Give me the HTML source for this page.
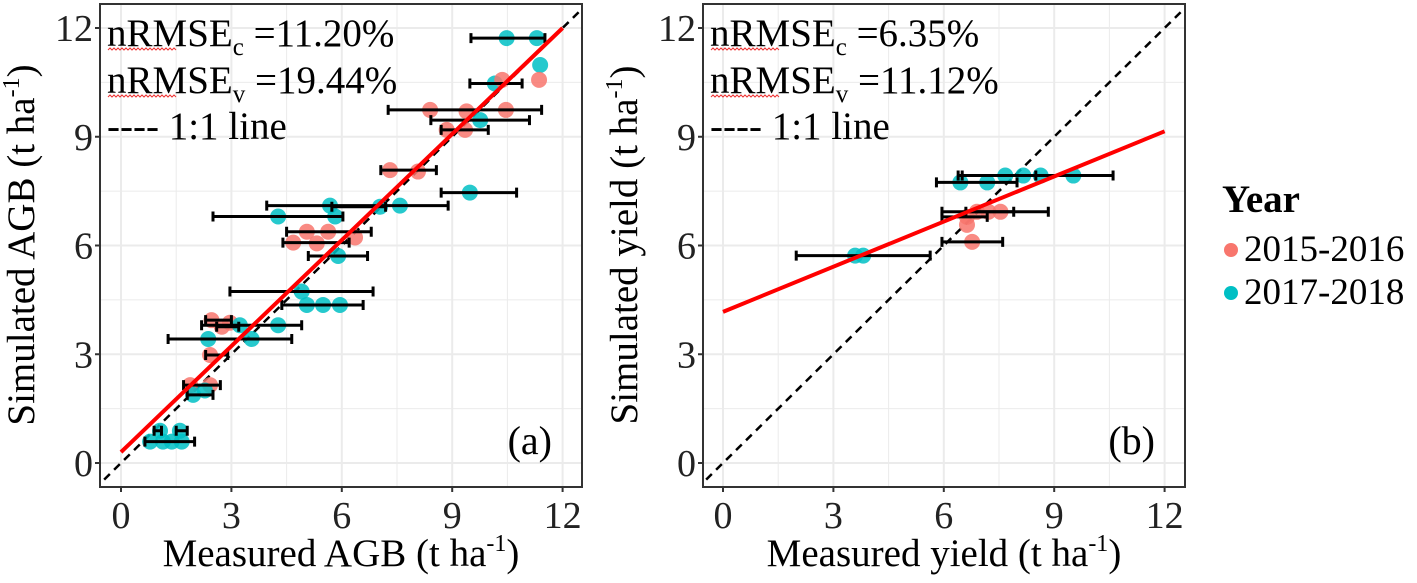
<!DOCTYPE html>
<html><head><meta charset="utf-8">
<style>
body{margin:0;background:#fff;width:1417px;height:578px;overflow:hidden;font-family:"Liberation Serif",serif;}
svg text{font-family:"Liberation Serif",serif;}
</style></head>
<body>
<svg id="chart" width="1417" height="578" xmlns="http://www.w3.org/2000/svg">
<g id="pa"></g>
<g id="pb"></g>
<g>
<text x="1222" y="212" font-size="39" font-weight="bold">Year</text>
<circle cx="1231" cy="250" r="7" fill="#F8766D"/>
<text x="1244" y="261" font-size="37">2015-2016</text>
<circle cx="1231" cy="293" r="7" fill="#00BFC4"/>
<text x="1244" y="304" font-size="37">2017-2018</text>
</g>
</svg>
<script>
// Panel (a) AGB data
const aX   = [10.48,11.3,11.39,11.36,10.16,10.36,8.4,9.39,10.46,9.76,8.85,9.35,7.31,8.07,9.48,5.68,7.04,7.58,4.27,5.82,5.05,5.63,6.36,4.68,5.32,5.9,4.91,5.05,5.49,5.95,2.46,2.96,2.74,3.23,4.27,2.37,3.55,2.42,1.88,2.42,1.96,2.28,1.06,1.6,0.79,1.14,1.38,1.65];
const aY   = [11.72,11.72,10.98,10.57,10.47,10.57,9.74,9.7,9.74,9.46,9.19,9.19,8.08,8.04,7.46,7.1,7.07,7.1,6.8,6.8,6.38,6.38,6.22,6.08,6.06,5.71,4.73,4.36,4.36,4.36,3.94,3.87,3.76,3.8,3.8,3.42,3.42,2.98,2.15,2.15,1.88,2.0,0.89,0.89,0.59,0.59,0.59,0.59];
const aG   = [1,1,1,0,1,0,0,0,0,1,0,0,0,0,1,1,1,1,1,1,0,0,0,0,0,1,1,1,1,1,0,0,0,1,1,1,1,0,0,0,1,1,1,1,1,1,1,1];
const aLo  = [9.51,null,null,null,9.48,null,7.26,null,null,8.42,8.7,null,7.06,null,8.7,3.96,5.73,null,2.5,null,4.5,null,null,4.4,null,5.09,2.96,4.37,null,null,2.3,null,2.6,2.19,null,1.28,null,2.3,1.7,null,1.8,null,0.9,1.5,0.65,null,null,null];
const aHi  = [11.52,null,null,null,10.9,null,11.43,null,null,11.1,9.98,null,8.57,null,10.75,8.89,7.19,null,6.03,null,6.8,null,null,6.2,null,6.7,6.85,6.58,null,null,3.0,null,3.2,4.91,null,4.64,null,2.9,2.7,null,2.5,null,1.1,1.8,2.0,null,null,null];
const aFit = [0.3,0.975];
// Panel (b) yield data
const bX   = [7.67,8.16,8.63,9.52,6.45,7.18,6.9,7.21,7.54,6.63,6.63,6.77,3.59,3.81];
const bY   = [7.93,7.93,7.93,7.93,7.74,7.74,6.93,6.93,6.93,6.79,6.57,6.1,5.72,5.72];
const bG   = [1,1,1,1,1,1,0,0,0,0,0,0,1,1];
const bLo  = [6.39,6.5,null,null,5.8,null,5.95,6.6,null,5.95,null,5.95,1.99,null];
const bHi  = [10.6,8.5,null,null,7.99,null,8.84,7.9,null,7.18,null,7.6,5.63,null];
const bFit = [4.17,0.415];
const ticks = [0,3,6,9,12];
const tickLabels = ["0","3","6","9","12"];
const colors = ["#F8766D","#00BFC4"];
const NS="http://www.w3.org/2000/svg";
function mk(p,t,a){const e=document.createElementNS(NS,t);for(const k in a)e.setAttribute(k,a[k]);p.appendChild(e);return e;}
function panel(g,cfg,X,Y,G,LO,HI,FIT){
  const L=cfg.left,R=cfg.left+482,T=4,B=487;
  const sx=v=>cfg.x0+v*36.8, sy=v=>463-v*36.25;
  const clip=mk(g,'clipPath',{id:cfg.id+'c'});mk(clip,'rect',{x:L,y:T,width:R-L,height:B-T});
  for(let v=-1.5;v<=13.5;v+=1.5){const major=(v%3===0);
    const gx=mk(g,'line',{x1:sx(v),x2:sx(v),y1:T,y2:B,stroke:'#ebebeb','stroke-width':major?2:1,'clip-path':'url(#'+cfg.id+'c)'});
    
    const gy=mk(g,'line',{x1:L,x2:R,y1:sy(v),y2:sy(v),stroke:'#ebebeb','stroke-width':major?2:1,'clip-path':'url(#'+cfg.id+'c)'});
    }
  const cg=mk(g,'g',{'clip-path':'url(#'+cfg.id+'c)'});
  const d=mk(cg,'line',{x1:sx(-1),y1:sy(-1),x2:sx(13),y2:sy(13),stroke:'#000','stroke-width':2.5,'stroke-dasharray':'8,6'});
  
  for(let i=0;i<X.length;i++){
    const c=mk(cg,'circle',{cx:sx(X[i]),cy:sy(Y[i]),r:8,fill:colors[G[i]],'fill-opacity':0.85});
    }
  for(let i=0;i<X.length;i++){ if(LO[i]==null)continue;
    const y=sy(Y[i]),x1=sx(LO[i]),x2=sx(HI[i]);
    const e=mk(cg,'path',{d:`M${x1},${y}H${x2}M${x1},${y-5}V${y+5}M${x2},${y-5}V${y+5}`,stroke:'#000','stroke-width':3,fill:'none'});
    }
  const f=mk(cg,'line',{x1:sx(0),y1:sy(FIT[0]),x2:sx(12),y2:sy(FIT[0]+12*FIT[1]),stroke:'#f00','stroke-width':4});
  
  const box=mk(g,'rect',{x:L,y:T,width:R-L,height:B-T,fill:'none',stroke:'#333','stroke-width':2});
  
  ticks.forEach((v,i)=>{
    mk(g,'line',{x1:sx(v),x2:sx(v),y1:B,y2:B+5,stroke:'#333','stroke-width':2});
    mk(g,'line',{x1:L-5,x2:L,y1:sy(v),y2:sy(v),stroke:'#333','stroke-width':2});
    const tx=mk(g,'text',{x:sx(v),y:B+41,'font-size':38,'text-anchor':'middle',fill:'#222'});tx.textContent=tickLabels[i];
    
    const ty=mk(g,'text',{x:L-7,y:sy(v)+13,'font-size':38,'text-anchor':'end',fill:'#222'});ty.textContent=tickLabels[i];
    
  });
  const xt=mk(g,'text',{x:(L+R)/2,y:566,'font-size':39,'text-anchor':'middle'});
  xt.innerHTML=cfg.xt+' (t ha<tspan dy="-15" font-size="24">-1</tspan><tspan dy="15">)</tspan>';
  
  const yt=mk(g,'text',{transform:`translate(${L-66},245) rotate(-90)`,'font-size':39,'text-anchor':'middle'});
  yt.innerHTML=cfg.yt+' (t ha<tspan dy="-15" font-size="24">-1</tspan><tspan dy="15">)</tspan>';
  
  const s1=mk(g,'text',{x:L+7,y:46,'font-size':39});s1.innerHTML='nRMSE<tspan dy="9" font-size="25">c</tspan><tspan dy="-9"> ='+cfg.c+'</tspan>';
  
  const s2=mk(g,'text',{x:L+7,y:93,'font-size':39});s2.innerHTML='nRMSE<tspan dy="9" font-size="25">v</tspan><tspan dy="-9"> ='+cfg.v+'</tspan>';
  
  [50,97].forEach(yy=>{let p=`M${L+8},${yy}`;for(let k=0;k<34;k++)p+=`l2,${k%2?2:-2}`;mk(g,'path',{d:p,stroke:'#e33','stroke-width':1,fill:'none'});});
  const s3=mk(g,'text',{x:L+7,y:139,'font-size':39});s3.textContent='---- 1:1 line';
  
  const pl=mk(g,'text',{x:R-30,y:454,'font-size':40,'text-anchor':'end'});pl.textContent=cfg.tag;
  
}
panel(document.getElementById('pa'),{id:'a',left:100,x0:121,xt:'Measured AGB',yt:'Simulated AGB',c:'11.20%',v:'19.44%',tag:'(a)'},aX,aY,aG,aLo,aHi,aFit);
panel(document.getElementById('pb'),{id:'b',left:703,x0:723,xt:'Measured yield',yt:'Simulated yield',c:'6.35%',v:'11.12%',tag:'(b)'},bX,bY,bG,bLo,bHi,bFit);
</script>
</body></html>
